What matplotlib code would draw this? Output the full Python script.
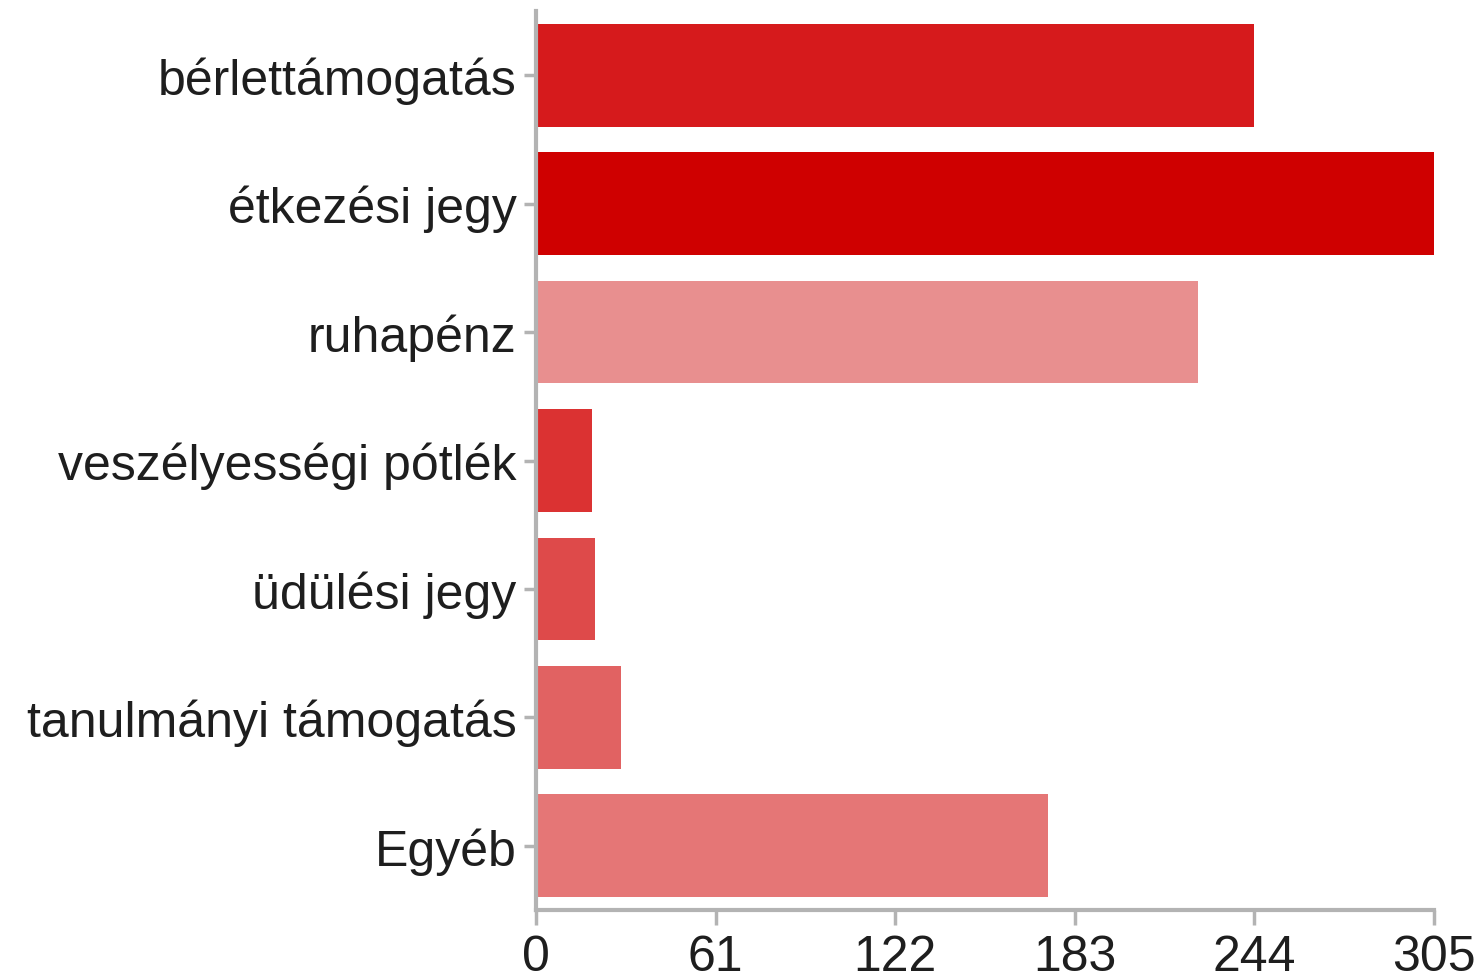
import matplotlib
matplotlib.use("Agg")
import matplotlib.pyplot as plt

categories = ["bérlettámogatás", "étkezési jegy", "ruhapénz", "veszélyességi pótlék",
              "üdülési jegy", "tanulmányi támogatás", "Egyéb"]
values = [244, 305, 225, 19, 20, 29, 174]
colors = ["#d61a1c", "#cf0000", "#e88f8f", "#db3232", "#de4a4a", "#e16262", "#e57676"]
xticks = [0, 61, 122, 183, 244, 305]

plt.rcParams['font.family'] = ['Liberation Sans', 'DejaVu Sans']

fig = plt.figure(figsize=(14.8, 9.79), dpi=100)
ax = fig.add_axes([536/1480, (979-911)/979, 898/1480, (911-12)/979])

ypos = list(range(len(categories)))
ax.barh(ypos, values, height=0.8, color=colors, linewidth=0)
ax.set_ylim(len(categories) - 0.5, -0.5)
ax.set_xlim(0, 305)
ax.set_yticks(ypos)
ax.set_yticklabels(categories, fontsize=36, color="#1e1e1e")
ax.set_xticks(xticks)
ax.set_xticklabels([str(t) for t in xticks], fontsize=36, color="#1e1e1e")

for s in ["top", "right"]:
    ax.spines[s].set_visible(False)
for s in ["left", "bottom"]:
    ax.spines[s].set_color("#b3b3b3")
    ax.spines[s].set_linewidth(3)
ax.tick_params(axis="y", length=9, width=2.5, color="#b3b3b3", pad=5)
ax.tick_params(axis="x", length=11, width=2.5, color="#b3b3b3", pad=6)

fig.savefig("out.png", dpi=100)
